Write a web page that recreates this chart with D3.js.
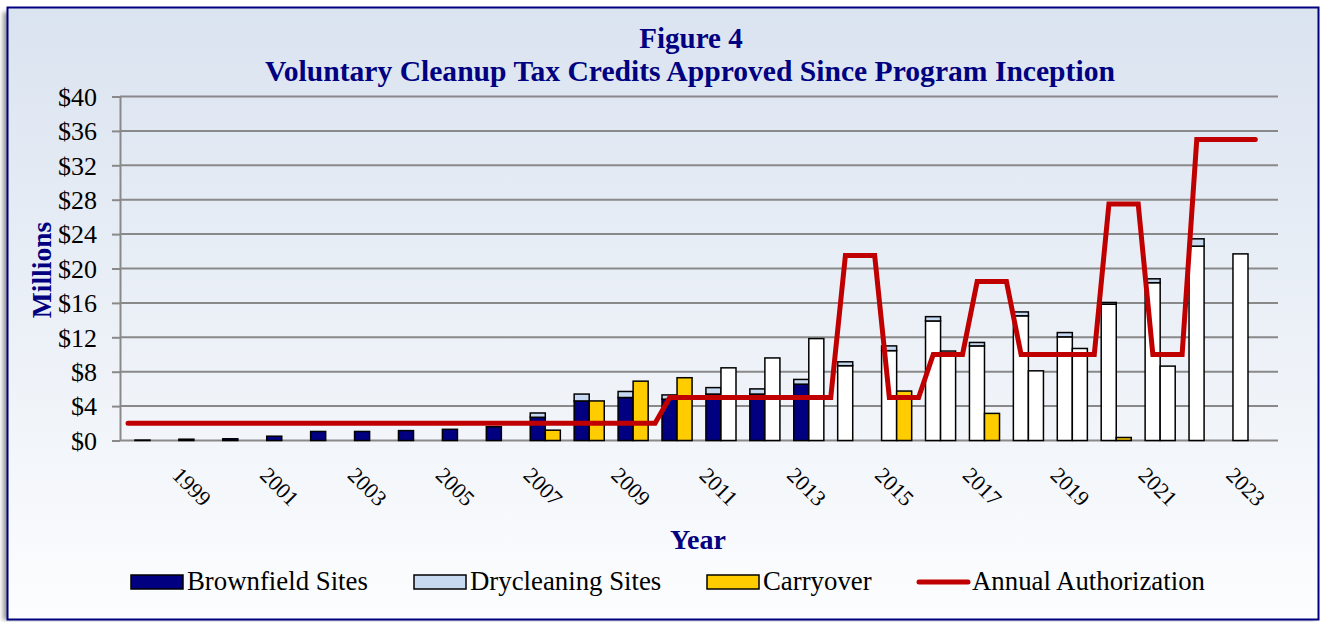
<!DOCTYPE html>
<html>
<head>
<meta charset="utf-8">
<script src="https://cdn.jsdelivr.net/npm/d3@7"></script>
<style>
  body { margin: 0; background: #fff; }
  svg { display: block; font-family: 'Liberation Serif', 'Times New Roman', serif; }
</style>
</head>
<body>
<svg id="figure-4"></svg>
<script>
// chart values ($ millions)
const years = [1998, 1999, 2000, 2001, 2002, 2003, 2004, 2005, 2006, 2007, 2008, 2009, 2010,
  2011, 2012, 2013, 2014, 2015, 2016, 2017, 2018, 2019, 2020, 2021, 2022, 2023];
const brownfield = [0.05, 0.15, 0.2, 0.5, 1.05, 1.05, 1.15, 1.3, 1.6, 2.7, 4.6, 5.0, 4.8,
  5.4, 5.4, 6.55, 0, 0, 0, 0, 0, 0, 0, 0, 0, 0];
// white bars in the first slot (no legend entry in the original)
const otherSites = [0, 0, 0, 0, 0, 0, 0, 0, 0, 0, 0, 0, 0,
  0, 0, 0, 8.7, 10.45, 13.9, 11.0, 14.5, 12.05, 15.85, 18.35, 22.6, 21.7];
const drycleaning = [0, 0, 0, 0, 0, 0, 0, 0, 0, 0.5, 0.8, 0.7, 0.5,
  0.75, 0.6, 0.55, 0.45, 0.55, 0.5, 0.4, 0.45, 0.5, 0.2, 0.45, 0.85, 0];
const carryover = [0, 0, 0, 0, 0, 0, 0, 0, 0, 1.2, 4.6, 6.9, 7.3,
  0, 0, 0, 0, 5.75, 0, 3.15, 0, 0, 0.35, 0, 0, 0];
// white bars in the second slot (no legend entry in the original)
const otherCredits = [0, 0, 0, 0, 0, 0, 0, 0, 0, 0, 0, 0, 0,
  8.45, 9.6, 11.85, 0, 0, 10.4, 0, 8.1, 10.7, 0, 8.65, 0, 0];
const authorization = [2, 2, 2, 2, 2, 2, 2, 2, 2, 2, 2, 2, 5,
  5, 5, 5, 21.5, 5, 10, 18.5, 10, 10, 27.5, 10, 35, 35];
const tickYears = [1999, 2001, 2003, 2005, 2007, 2009, 2011, 2013, 2015, 2017, 2019, 2021, 2023];
const yTicks = [0, 4, 8, 12, 16, 20, 24, 28, 32, 36, 40];

const config = { width: 1324, height: 622 };
const plot = { left: 120, right: 1278, top: 96.5, bottom: 440.5 };
const colors = {
  brownfield: '#000080',
  otherSites: '#ffffff',
  drycleaning: '#c6d9f1',
  carryover: '#ffcc00',
  otherCredits: '#ffffff',
  line: '#c00000',
  grid: '#898989',
  navy: '#000080',
};

const svg = d3
  .select('#figure-4')
  .attr('width', config.width)
  .attr('height', config.height);

// background panel with soft shadow and gradient
const defs = svg.append('defs');
const grad = defs
  .append('linearGradient')
  .attr('id', 'panel-bg')
  .attr('x1', 0).attr('y1', 0).attr('x2', 0).attr('y2', 1);
grad.append('stop').attr('offset', '0%').attr('stop-color', '#dae3f0');
grad.append('stop').attr('offset', '100%').attr('stop-color', '#fcfdfe');
defs
  .append('filter')
  .attr('id', 'soft')
  .append('feGaussianBlur')
  .attr('stdDeviation', 2);

svg.append('rect')
  .attr('x', 3).attr('y', 12)
  .attr('width', 1312).attr('height', 608)
  .attr('fill', '#9a9a9a')
  .attr('filter', 'url(#soft)');
svg.append('rect')
  .attr('x', 7.5).attr('y', 7.5)
  .attr('width', 1311).attr('height', 612)
  .attr('fill', 'url(#panel-bg)')
  .attr('stroke', colors.navy)
  .attr('stroke-width', 2);

// scales
const x0 = d3
  .scaleBand()
  .domain(years)
  .range([plot.left, plot.right])
  .paddingInner(0)
  .paddingOuter(0.183);
const x1 = d3
  .scaleBand()
  .domain(['stack', 'single'])
  .range([0, x0.bandwidth()])
  .paddingInner(0)
  .paddingOuter(0.46);
const y = d3.scaleLinear().domain([0, 40]).range([plot.bottom, plot.top]);

// gridlines
svg.append('g')
  .selectAll('line')
  .data(yTicks)
  .join('line')
  .attr('x1', plot.left)
  .attr('x2', plot.right)
  .attr('y1', d => y(d))
  .attr('y2', d => y(d))
  .attr('stroke', colors.grid)
  .attr('stroke-width', 2);

// y axis
const yAxis = svg.append('g')
  .attr('transform', `translate(${plot.left},0)`)
  .call(d3.axisLeft(y).tickValues(yTicks).tickSize(8).tickSizeOuter(0).tickPadding(15).tickFormat(d => '$' + d));
yAxis.select('.domain').attr('stroke', colors.grid).attr('stroke-width', 2);
yAxis.selectAll('.tick line').attr('stroke', colors.grid).attr('stroke-width', 2);
yAxis.selectAll('.tick text')
  .attr('fill', '#000')
  .attr('font-family', 'Liberation Serif')
  .attr('font-size', 26)
  .attr('dy', '0.34em');

// x axis labels
const xAxis = svg.append('g')
  .attr('transform', `translate(0,${plot.bottom})`)
  .call(d3.axisBottom(x0).tickValues(tickYears).tickSize(0));
xAxis.select('.domain').remove();
xAxis.selectAll('.tick text')
  .attr('fill', '#000')
  .attr('font-family', 'Liberation Serif')
  .attr('font-size', 22)
  .attr('y', 0)
  .attr('dy', '0.35em')
  .attr('text-anchor', 'middle')
  .attr('transform', 'translate(-2,46) rotate(45)');

// bars
const rows = years.map((yr, i) => ({
  year: yr,
  brownfield: brownfield[i],
  otherSites: otherSites[i],
  drycleaning: drycleaning[i],
  carryover: carryover[i],
  otherCredits: otherCredits[i],
}));

function drawStack(keys, slot) {
  const layers = d3.stack().keys(keys)(rows);
  svg.append('g')
    .selectAll('g')
    .data(layers)
    .join('g')
    .attr('fill', d => colors[d.key])
    .selectAll('rect')
    .data(d => d.filter(p => p[1] - p[0] > 0))
    .join('rect')
    .attr('x', d => x0(d.data.year) + x1(slot))
    .attr('width', x1.bandwidth())
    .attr('y', d => y(d[1]))
    .attr('height', d => y(d[0]) - y(d[1]))
    .attr('stroke', '#000')
    .attr('stroke-width', 1.5);
}
drawStack(['brownfield', 'otherSites', 'drycleaning'], 'stack');
drawStack(['carryover', 'otherCredits'], 'single');

// annual authorization line: changes a third of the way into each year
const authPoints = years.flatMap((yr, i) =>
  [0, 1, 2].map(k => ({
    x: x0(yr) + (k * x0.step()) / 3,
    v: k === 0 && i > 0 ? authorization[i - 1] : authorization[i],
  }))
);
svg.append('path')
  .datum(authPoints)
  .attr('d', d3.line().x(d => d.x).y(d => y(d.v)))
  .attr('fill', 'none')
  .attr('stroke', colors.line)
  .attr('stroke-width', 5)
  .attr('stroke-linejoin', 'miter')
  .attr('stroke-linecap', 'round');

// titles
svg.append('text')
  .attr('x', 691).attr('y', 48)
  .attr('text-anchor', 'middle')
  .attr('font-weight', 'bold')
  .attr('font-size', 29)
  .attr('fill', colors.navy)
  .text('Figure 4');
svg.append('text')
  .attr('x', 690).attr('y', 81)
  .attr('text-anchor', 'middle')
  .attr('font-weight', 'bold')
  .attr('font-size', 29.6)
  .attr('fill', colors.navy)
  .text('Voluntary Cleanup Tax Credits Approved Since Program Inception');
svg.append('text')
  .attr('transform', 'translate(51,270) rotate(-90)')
  .attr('text-anchor', 'middle')
  .attr('font-weight', 'bold')
  .attr('font-size', 27.5)
  .attr('fill', colors.navy)
  .text('Millions');
svg.append('text')
  .attr('x', 698).attr('y', 549)
  .attr('text-anchor', 'middle')
  .attr('font-weight', 'bold')
  .attr('font-size', 28)
  .attr('fill', colors.navy)
  .text('Year');

// legend
const legendItems = [
  { label: 'Brownfield Sites', key: 'brownfield', x: 131 },
  { label: 'Drycleaning Sites', key: 'drycleaning', x: 414 },
  { label: 'Carryover', key: 'carryover', x: 707 },
  { label: 'Annual Authorization', key: 'line', x: 916 },
];
const legend = svg.append('g');
legendItems.forEach(item => {
  if (item.key === 'line') {
    legend.append('line')
      .attr('x1', item.x + 3).attr('x2', item.x + 52)
      .attr('y1', 582).attr('y2', 582)
      .attr('stroke', colors.line)
      .attr('stroke-width', 5)
      .attr('stroke-linecap', 'round');
  } else {
    legend.append('rect')
      .attr('x', item.x).attr('y', 575)
      .attr('width', 52).attr('height', 14)
      .attr('fill', colors[item.key])
      .attr('stroke', '#000')
      .attr('stroke-width', 1.5);
  }
  legend.append('text')
    .attr('x', item.x + 56).attr('y', 590)
    .attr('font-size', 26.8)
    .attr('fill', '#000')
    .text(item.label);
});
</script>
</body>
</html>
